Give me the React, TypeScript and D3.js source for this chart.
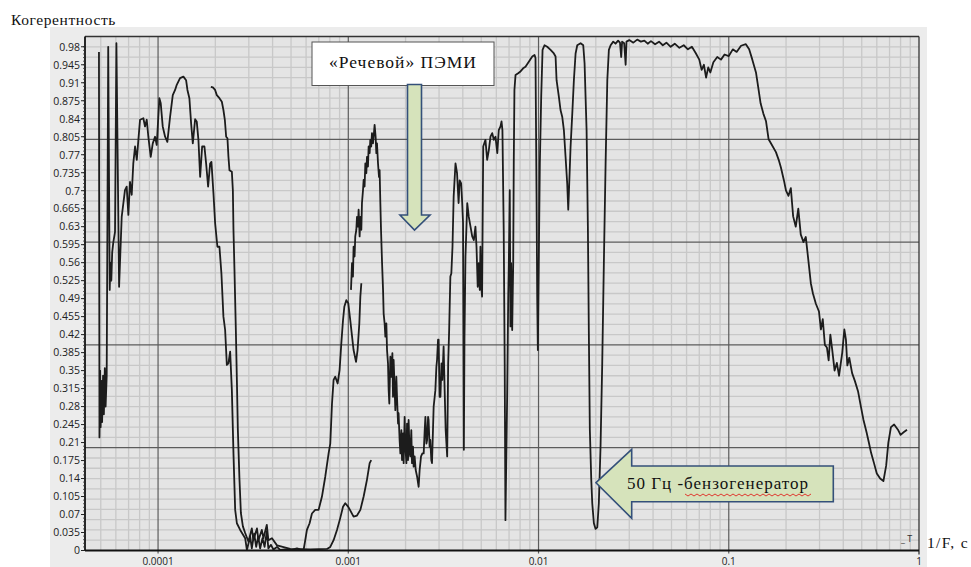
import React from 'react';
import * as d3 from 'd3';

const W = 971;
const H = 567;
const PLOT_LEFT = 85;
const PLOT_RIGHT = 919;
const PLOT_TOP = 36.5;
const PLOT_BOTTOM = 550.5;

const xDomain: [number, number] = [4.13e-5, 1];
const yDomain: [number, number] = [0, 1];

const yTickLabels = ['0', '0.035', '0.07', '0.105', '0.14', '0.175', '0.21', '0.245', '0.28', '0.315', '0.35', '0.385', '0.42', '0.455', '0.49', '0.525', '0.56', '0.595', '0.63', '0.665', '0.7', '0.735', '0.77', '0.805', '0.84', '0.875', '0.91', '0.945', '0.98'];
const xTickValues = [0.0001, 0.001, 0.01, 0.1, 1];
const xTickLabels = ['0.0001', '0.001', '0.01', '0.1', '1'];
const majorY = [0.2, 0.4, 0.6, 0.8];

// Trace 1: low-frequency spikes, first hump, near-zero band, rising branch toward 1 ms
const traceLow: [number, number][] = [
  [4.89e-5, 0.970], [4.92e-5, 0.220], [4.96e-5, 0.350], [4.99e-5, 0.240], [5.04e-5, 0.330], [5.08e-5, 0.250],
  [5.14e-5, 0.340], [5.19e-5, 0.265], [5.25e-5, 0.355], [5.30e-5, 0.280], [5.37e-5, 0.340], [5.42e-5, 0.650],
  [5.47e-5, 0.980], [5.57e-5, 0.507], [5.62e-5, 0.560], [5.68e-5, 0.525], [5.74e-5, 0.580], [5.82e-5, 0.600],
  [5.94e-5, 0.620], [6.04e-5, 0.987], [6.24e-5, 0.513], [6.44e-5, 0.649], [6.70e-5, 0.701], [6.84e-5, 0.708],
  [6.98e-5, 0.653], [7.12e-5, 0.717], [7.27e-5, 0.692], [7.41e-5, 0.753], [7.57e-5, 0.786], [7.73e-5, 0.760],
  [7.88e-5, 0.799], [8.04e-5, 0.838], [8.37e-5, 0.841], [8.54e-5, 0.825], [8.72e-5, 0.838], [8.89e-5, 0.805],
  [9.15e-5, 0.766], [9.38e-5, 0.792], [9.64e-5, 0.805], [9.84e-5, 0.789], [1.016e-4, 0.880], [1.033e-4, 0.870],
  [1.058e-4, 0.825], [1.089e-4, 0.805], [1.119e-4, 0.795], [1.157e-4, 0.844], [1.195e-4, 0.886], [1.229e-4, 0.896],
  [1.254e-4, 0.906], [1.305e-4, 0.919], [1.359e-4, 0.922], [1.404e-4, 0.915], [1.427e-4, 0.896], [1.461e-4, 0.880],
  [1.492e-4, 0.831], [1.523e-4, 0.792], [1.566e-4, 0.839], [1.598e-4, 0.834], [1.630e-4, 0.799], [1.664e-4, 0.727],
  [1.705e-4, 0.786], [1.753e-4, 0.786], [1.789e-4, 0.753], [1.833e-4, 0.708], [1.878e-4, 0.753], [1.908e-4, 0.756],
  [1.955e-4, 0.695], [1.995e-4, 0.637], [2.051e-4, 0.591], [2.102e-4, 0.591], [2.153e-4, 0.539], [2.206e-4, 0.455],
  [2.252e-4, 0.429], [2.299e-4, 0.361], [2.344e-4, 0.364], [2.393e-4, 0.387], [2.443e-4, 0.312], [2.491e-4, 0.189],
  [2.543e-4, 0.079], [2.596e-4, 0.053], [2.702e-4, 0.040], [2.870e-4, 0.024], [2.930e-4, 0.001], [3.05e-4, 0.027],
  [3.11e-4, 0.004], [3.20e-4, 0.033], [3.28e-4, 0.007], [3.36e-4, 0.027], [3.44e-4, 0.004], [3.54e-4, 0.024],
  [3.63e-4, 0.007], [3.73e-4, 0.037], [3.80e-4, 0.004], [3.92e-4, 0.011], [4.04e-4, 0.002], [4.22e-4, 0.007],
  [4.39e-4, 0.001], [4.66e-4, 0.002], [5.05e-4, 0.001], [5.37e-4, 0.004], [5.59e-4, 0.002], [5.82e-4, 0.001],
  [5.94e-4, 0.020], [6.06e-4, 0.040], [6.26e-4, 0.053], [6.44e-4, 0.072], [6.70e-4, 0.079], [6.98e-4, 0.079],
  [7.27e-4, 0.105], [7.57e-4, 0.144], [7.88e-4, 0.189], [8.04e-4, 0.208], [8.21e-4, 0.286], [8.37e-4, 0.332],
  [8.54e-4, 0.338], [8.79e-4, 0.325], [9.00e-4, 0.351], [9.19e-4, 0.403], [9.38e-4, 0.448], [9.53e-4, 0.474],
  [9.76e-4, 0.487], [1.000e-3, 0.481], [1.024e-3, 0.448], [1.066e-3, 0.390], [1.098e-3, 0.367], [1.119e-3, 0.390],
  [1.143e-3, 0.442], [1.157e-3, 0.494], [1.171e-3, 0.520],
];

// Trace 2: second hump, near-zero band and the small branch ending near 1.3 ms
const traceSecond: [number, number][] = [
  [1.894e-4, 0.902], [1.941e-4, 0.901], [1.995e-4, 0.896], [2.036e-4, 0.886], [2.102e-4, 0.880], [2.164e-4, 0.873],
  [2.206e-4, 0.857], [2.244e-4, 0.838], [2.280e-4, 0.805], [2.316e-4, 0.802], [2.344e-4, 0.766], [2.373e-4, 0.740],
  [2.443e-4, 0.737], [2.473e-4, 0.701], [2.491e-4, 0.624], [2.521e-4, 0.547], [2.564e-4, 0.429], [2.596e-4, 0.332],
  [2.627e-4, 0.235], [2.679e-4, 0.138], [2.725e-4, 0.073], [2.792e-4, 0.047], [2.870e-4, 0.034], [2.988e-4, 0.017],
  [3.11e-4, 0.043], [3.17e-4, 0.020], [3.31e-4, 0.043], [3.37e-4, 0.020], [3.51e-4, 0.040], [3.58e-4, 0.024],
  [3.73e-4, 0.050], [3.80e-4, 0.020], [3.97e-4, 0.024], [4.22e-4, 0.010], [4.95e-4, 0.003], [6.31e-4, 0.002],
  [7.72e-4, 0.003], [8.04e-4, 0.007], [8.37e-4, 0.020], [8.72e-4, 0.040], [9.07e-4, 0.063], [9.38e-4, 0.085],
  [9.64e-4, 0.092], [1.000e-3, 0.085], [1.066e-3, 0.066], [1.111e-3, 0.068], [1.157e-3, 0.079], [1.204e-3, 0.105],
  [1.254e-3, 0.138], [1.295e-3, 0.170], [1.320e-3, 0.176],
];

// Trace 3: "speech" band, dips near 7 ms, 10 ms, 14 ms, the 50 Hz dip and the high-period tail
const traceSpeech: [number, number][] = [
  [1.033e-3, 0.507], [1.046e-3, 0.559], [1.058e-3, 0.533], [1.066e-3, 0.591], [1.079e-3, 0.572], [1.088e-3, 0.611],
  [1.102e-3, 0.624], [1.111e-3, 0.649], [1.124e-3, 0.630], [1.133e-3, 0.663], [1.147e-3, 0.611], [1.157e-3, 0.649],
  [1.171e-3, 0.624], [1.180e-3, 0.676], [1.195e-3, 0.701], [1.204e-3, 0.721], [1.218e-3, 0.708], [1.229e-3, 0.753],
  [1.244e-3, 0.734], [1.254e-3, 0.766], [1.269e-3, 0.747], [1.279e-3, 0.786], [1.295e-3, 0.773], [1.305e-3, 0.799],
  [1.320e-3, 0.786], [1.332e-3, 0.812], [1.348e-3, 0.792], [1.359e-3, 0.805], [1.375e-3, 0.828], [1.392e-3, 0.805],
  [1.404e-3, 0.773], [1.415e-3, 0.792], [1.433e-3, 0.753], [1.450e-3, 0.727], [1.461e-3, 0.740], [1.474e-3, 0.676],
  [1.486e-3, 0.624], [1.505e-3, 0.559], [1.523e-3, 0.507], [1.534e-3, 0.461], [1.552e-3, 0.442], [1.566e-3, 0.416],
  [1.585e-3, 0.442], [1.598e-3, 0.390], [1.617e-3, 0.364], [1.630e-3, 0.312], [1.643e-3, 0.286], [1.664e-3, 0.377],
  [1.684e-3, 0.338], [1.705e-3, 0.384], [1.718e-3, 0.299], [1.731e-3, 0.371], [1.753e-3, 0.312], [1.767e-3, 0.273],
  [1.789e-3, 0.338], [1.803e-3, 0.299], [1.826e-3, 0.247], [1.838e-3, 0.267], [1.861e-3, 0.215], [1.878e-3, 0.189],
  [1.901e-3, 0.234], [1.916e-3, 0.176], [1.940e-3, 0.228], [1.954e-3, 0.170], [1.978e-3, 0.260], [1.995e-3, 0.202],
  [2.020e-3, 0.170], [2.036e-3, 0.247], [2.061e-3, 0.176], [2.075e-3, 0.254], [2.101e-3, 0.189], [2.118e-3, 0.183],
  [2.144e-3, 0.234], [2.162e-3, 0.170], [2.189e-3, 0.202], [2.205e-3, 0.163], [2.232e-3, 0.183], [2.260e-3, 0.157],
  [2.299e-3, 0.144], [2.327e-3, 0.131], [2.343e-3, 0.124], [2.372e-3, 0.157], [2.412e-3, 0.183], [2.452e-3, 0.189],
  [2.491e-3, 0.189], [2.521e-3, 0.234], [2.543e-3, 0.260], [2.574e-3, 0.208], [2.596e-3, 0.215], [2.627e-3, 0.260],
  [2.643e-3, 0.254], [2.676e-3, 0.202], [2.698e-3, 0.215], [2.731e-3, 0.176], [2.754e-3, 0.170], [2.787e-3, 0.234],
  [2.810e-3, 0.280], [2.845e-3, 0.299], [2.869e-3, 0.312], [2.904e-3, 0.357], [2.928e-3, 0.371], [2.963e-3, 0.410],
  [2.984e-3, 0.410], [3.020e-3, 0.299], [3.05e-3, 0.299], [3.09e-3, 0.364], [3.12e-3, 0.332], [3.17e-3, 0.397],
  [3.21e-3, 0.312], [3.25e-3, 0.234], [3.31e-3, 0.183], [3.35e-3, 0.364], [3.39e-3, 0.429], [3.44e-3, 0.533],
  [3.48e-3, 0.539], [3.53e-3, 0.591], [3.58e-3, 0.689], [3.66e-3, 0.753], [3.73e-3, 0.734], [3.80e-3, 0.676],
  [3.85e-3, 0.720], [3.92e-3, 0.714], [3.97e-3, 0.676], [4.01e-3, 0.637], [4.05e-3, 0.196], [4.08e-3, 0.410],
  [4.13e-3, 0.572], [4.22e-3, 0.676], [4.30e-3, 0.649], [4.39e-3, 0.630], [4.48e-3, 0.611], [4.57e-3, 0.604],
  [4.66e-3, 0.630], [4.72e-3, 0.591], [4.79e-3, 0.513], [4.85e-3, 0.559], [4.91e-3, 0.507], [4.95e-3, 0.591],
  [4.99e-3, 0.520], [5.05e-3, 0.494], [5.12e-3, 0.786], [5.26e-3, 0.799], [5.37e-3, 0.760], [5.48e-3, 0.779],
  [5.59e-3, 0.805], [5.71e-3, 0.812], [5.82e-3, 0.799], [5.94e-3, 0.805], [6.07e-3, 0.773], [6.18e-3, 0.818],
  [6.31e-3, 0.825], [6.39e-3, 0.835], [6.46e-3, 0.818], [6.56e-3, 0.624], [6.64e-3, 0.364], [6.70e-3, 0.059],
  [6.84e-3, 0.299], [6.93e-3, 0.494], [6.98e-3, 0.559], [7.06e-3, 0.701], [7.12e-3, 0.436], [7.18e-3, 0.559],
  [7.27e-3, 0.429], [7.36e-3, 0.559], [7.41e-3, 0.753], [7.47e-3, 0.896], [7.57e-3, 0.925], [7.78e-3, 0.928],
  [8.04e-3, 0.932], [8.30e-3, 0.938], [8.54e-3, 0.941], [8.89e-3, 0.951], [9.27e-3, 0.961], [9.53e-3, 0.964],
  [9.64e-3, 0.958], [9.76e-3, 0.695], [9.84e-3, 0.494], [9.92e-3, 0.390], [1.003e-2, 0.559], [1.016e-2, 0.753],
  [1.033e-2, 0.883], [1.050e-2, 0.974], [1.075e-2, 0.983], [1.111e-2, 0.980], [1.157e-2, 0.974], [1.204e-2, 0.967],
  [1.229e-2, 0.961], [1.244e-2, 0.915], [1.279e-2, 0.883], [1.305e-2, 0.857], [1.332e-2, 0.844], [1.359e-2, 0.818],
  [1.387e-2, 0.766], [1.415e-2, 0.714], [1.433e-2, 0.663], [1.450e-2, 0.714], [1.474e-2, 0.786], [1.505e-2, 0.851],
  [1.534e-2, 0.915], [1.566e-2, 0.967], [1.598e-2, 0.983], [1.664e-2, 0.987], [1.718e-2, 0.983], [1.746e-2, 0.948],
  [1.767e-2, 0.883], [1.789e-2, 0.818], [1.818e-2, 0.624], [1.838e-2, 0.429], [1.861e-2, 0.235], [1.893e-2, 0.138],
  [1.916e-2, 0.092], [1.954e-2, 0.053], [1.995e-2, 0.042], [2.036e-2, 0.045], [2.075e-2, 0.092], [2.118e-2, 0.202],
  [2.162e-2, 0.364], [2.205e-2, 0.559], [2.252e-2, 0.753], [2.299e-2, 0.915], [2.343e-2, 0.974], [2.393e-2, 0.983],
  [2.47e-2, 0.990], [2.54e-2, 0.986], [2.62e-2, 0.992], [2.68e-2, 0.988], [2.72e-2, 0.960], [2.75e-2, 0.990],
  [2.82e-2, 0.987], [2.87e-2, 0.945], [2.90e-2, 0.990], [3.00e-2, 0.993], [3.15e-2, 0.988], [3.30e-2, 0.994],
  [3.45e-2, 0.990], [3.60e-2, 0.992], [3.75e-2, 0.986], [3.90e-2, 0.991], [4.10e-2, 0.985], [4.30e-2, 0.990],
  [4.50e-2, 0.983], [4.70e-2, 0.988], [4.95e-2, 0.980], [5.20e-2, 0.986], [5.50e-2, 0.978], [5.80e-2, 0.983],
  [6.10e-2, 0.975], [6.40e-2, 0.980], [6.70e-2, 0.968], [7.00e-2, 0.955], [7.20e-2, 0.935], [7.40e-2, 0.945],
  [7.60e-2, 0.920], [7.80e-2, 0.940], [8.00e-2, 0.930], [8.30e-2, 0.950], [8.70e-2, 0.960], [9.10e-2, 0.955],
  [9.50e-2, 0.965], [0.100, 0.962], [0.105, 0.975], [0.110, 0.970], [0.116, 0.982], [0.123, 0.985],
  [0.128, 0.975], [0.133, 0.955], [0.139, 0.930], [0.143, 0.900], [0.147, 0.870], [0.152, 0.850],
  [0.157, 0.835], [0.162, 0.800], [0.168, 0.790], [0.177, 0.775], [0.183, 0.760], [0.188, 0.745],
  [0.195, 0.720], [0.200, 0.700], [0.206, 0.690], [0.212, 0.705], [0.218, 0.650], [0.225, 0.630],
  [0.232, 0.665], [0.239, 0.615], [0.247, 0.600], [0.254, 0.610], [0.262, 0.565], [0.270, 0.520],
  [0.277, 0.500], [0.287, 0.480], [0.298, 0.465], [0.305, 0.430], [0.312, 0.450], [0.320, 0.400],
  [0.328, 0.395], [0.335, 0.370], [0.342, 0.420], [0.350, 0.390], [0.360, 0.350], [0.370, 0.365],
  [0.380, 0.340], [0.395, 0.385], [0.405, 0.430], [0.413, 0.410], [0.420, 0.360], [0.430, 0.375],
  [0.445, 0.345], [0.460, 0.330], [0.478, 0.310], [0.495, 0.280], [0.510, 0.255], [0.530, 0.230],
  [0.545, 0.210], [0.560, 0.190], [0.580, 0.170], [0.600, 0.150], [0.625, 0.140], [0.650, 0.135],
  [0.672, 0.165], [0.690, 0.210], [0.712, 0.240], [0.740, 0.245], [0.775, 0.235], [0.800, 0.225],
  [0.830, 0.230], [0.865, 0.235],
];

const traces = [traceLow, traceSecond, traceSpeech];

const SERIF = 'Liberation Serif, Times New Roman, serif';
const SANS = 'Open Sans, DejaVu Sans, sans-serif';

export default function App() {
  const x = d3.scaleLog().domain(xDomain).range([PLOT_LEFT, PLOT_RIGHT]);
  const y = d3.scaleLinear().domain(yDomain).range([PLOT_BOTTOM, PLOT_TOP]);
  const line = d3.line<[number, number]>().x((d) => x(d[0])).y((d) => y(d[1]));

  const minorX: number[] = [];
  for (let e = -5; e <= -1; e++) {
    for (let m = 2; m <= 9; m++) {
      const v = m * Math.pow(10, e);
      if (v > xDomain[0] && v < xDomain[1]) minorX.push(v);
    }
  }
  const minorY = d3.range(1, 50).map((i) => i * 0.02).filter((v) => Math.abs(v / 0.2 - Math.round(v / 0.2)) > 1e-6);
  const yTicks = yTickLabels.map(Number);
  const yMinor = d3.range(0, 141).map((i) => i * 0.007);

  // wavy underline (spell-check squiggle)
  let wave = 'M685,494';
  for (let i = 1; i <= 42; i++) wave += ` L${685 + i * 3},${i % 2 ? 496 : 494}`;

  return (
    <svg width={W} height={H} style={{ position: 'absolute', left: 0, top: 0, background: '#fff' }}>
      <defs>
        <clipPath id="plotClip">
          <rect x={PLOT_LEFT} y={PLOT_TOP} width={PLOT_RIGHT - PLOT_LEFT} height={PLOT_BOTTOM - PLOT_TOP} />
        </clipPath>
      </defs>
      <rect x={50} y={27} width={877} height={H - 27} fill="#ececec" />
      <rect x={PLOT_LEFT} y={PLOT_TOP} width={PLOT_RIGHT - PLOT_LEFT} height={PLOT_BOTTOM - PLOT_TOP} fill="#e4e4e4" />

      <g stroke="#c8c8c8" strokeWidth={1.3}>
        {minorX.map((v) => (
          <line key={'mx' + v} x1={x(v)} x2={x(v)} y1={PLOT_TOP} y2={PLOT_BOTTOM} />
        ))}
        {minorY.map((v) => (
          <line key={'my' + v} x1={PLOT_LEFT} x2={PLOT_RIGHT} y1={y(v)} y2={y(v)} />
        ))}
      </g>
      <g stroke="#5c5c5c" strokeWidth={1.2}>
        {xTickValues.slice(0, 4).map((v) => (
          <line key={'Mx' + v} x1={x(v)} x2={x(v)} y1={PLOT_TOP} y2={PLOT_BOTTOM + 3} />
        ))}
        {majorY.map((v) => (
          <line key={'My' + v} x1={PLOT_LEFT} x2={PLOT_RIGHT} y1={y(v)} y2={y(v)} />
        ))}
      </g>

      <g clipPath="url(#plotClip)" fill="none" stroke="#1c1c1c" strokeWidth={1.8} strokeLinejoin="round">
        {traces.map((t, i) => (
          <path key={i} d={line(t) || ''} />
        ))}
      </g>

      {/* frame */}
      <line x1={PLOT_LEFT} x2={PLOT_RIGHT} y1={PLOT_TOP} y2={PLOT_TOP} stroke="#333" strokeWidth={1.3} />
      <line x1={PLOT_RIGHT} x2={PLOT_RIGHT} y1={PLOT_TOP} y2={PLOT_BOTTOM + 4} stroke="#333" strokeWidth={1.3} />
      <line x1={PLOT_LEFT} x2={PLOT_LEFT} y1={PLOT_TOP} y2={PLOT_BOTTOM} stroke="#111" strokeWidth={1.8} />
      <line x1={PLOT_LEFT} x2={PLOT_RIGHT} y1={PLOT_BOTTOM} y2={PLOT_BOTTOM} stroke="#111" strokeWidth={2} />

      {/* y axis ticks */}
      <g stroke="#333" strokeWidth={0.8}>
        {yMinor.map((v, i) => (
          <line key={'ym' + i} x1={PLOT_LEFT - 2} x2={PLOT_LEFT} y1={y(v)} y2={y(v)} />
        ))}
      </g>
      <g stroke="#222" strokeWidth={1}>
        {yTicks.map((v) => (
          <line key={'yt' + v} x1={PLOT_LEFT - 4} x2={PLOT_LEFT} y1={y(v)} y2={y(v)} />
        ))}
      </g>
      <g fontFamily={SANS} fontSize={10.5} fill="#222" textAnchor="end">
        {yTickLabels.map((s, i) => (
          <text key={'yl' + s} x={PLOT_LEFT - 5} y={y(yTicks[i]) + 3.8}>{s}</text>
        ))}
      </g>
      <g fontFamily={SANS} fontSize={10} fill="#222" textAnchor="middle">
        {xTickLabels.map((s, i) => (
          <text key={'xl' + s} x={x(xTickValues[i])} y={565}>{s}</text>
        ))}
      </g>

      <text x={11} y={25} fontFamily={SERIF} fontSize={15.5} letterSpacing={0.6} fill="#111">Когерентность</text>
      <text x={927} y={548} fontFamily={SERIF} fontSize={15.5} letterSpacing={1.3} fill="#111">1/F, с</text>
      <text x={901} y={542} fontFamily={SANS} fontSize={9} fill="#333">_ T</text>

      {/* speech annotation */}
      <rect x={312} y={42} width={182} height={43.5} fill="#fff" stroke="#555" strokeWidth={1} />
      <text x={403} y={68} fontFamily={SERIF} fontSize={17.5} letterSpacing={1} fill="#111" textAnchor="middle">«Речевой» ПЭМИ</text>
      <path d="M407.5,84.5 L421.5,84.5 L421.5,215 L430,215 L414.5,230 L400,215 L407.5,215 Z" fill="#d6e3bb" stroke="#34507a" strokeWidth={1.6} strokeLinejoin="miter" />

      {/* 50 Hz annotation */}
      <path d="M596,482.7 L631.7,449.3 L631.7,466 L833.3,466 L833.3,501.7 L631.7,501.7 L631.7,518.3 Z" fill="#d6e3bb" stroke="#34507a" strokeWidth={1.6} />
      <text x={627} y={489} fontFamily={SERIF} fontSize={17} letterSpacing={1} fill="#111">50 Гц -бензогенератор</text>
      <path d={wave} fill="none" stroke="#e0241e" strokeWidth={0.9} />
    </svg>
  );
}
